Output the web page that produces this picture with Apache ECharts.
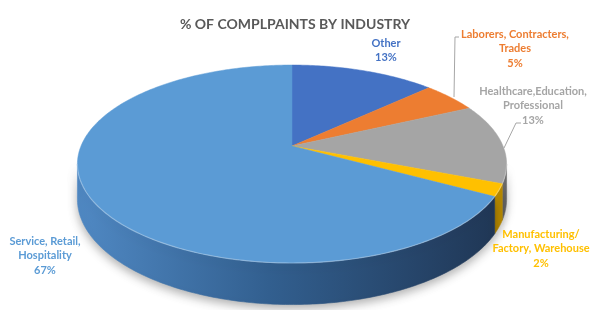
<!DOCTYPE html>
<html>
<head>
<meta charset="utf-8">
<script src="https://cdn.jsdelivr.net/npm/echarts@6/dist/echarts.min.js"></script>
<style>
  html, body { margin: 0; padding: 0; background: #fff; }
  #main { width: 590px; height: 310px; }
</style>
</head>
<body>
<div id="main"></div>
<script>
// data
var categories = ['Other', 'Laborers, Contracters,\nTrades', 'Healthcare,Education,\nProfessional', 'Manufacturing/\nFactory, Warehouse', 'Service, Retail,\nHospitality'];
var shares = [13, 5, 13, 2, 67];
var topColors = ['#4472c4', '#ed7d31', '#a5a5a5', '#ffc000', '#5b9bd5'];
var sideColors = ['#2f5597', '#b65a1c', '#6e6e6e', '#b88a00', null];

// layout of the tilted disc (perspective)
var cx = 292, cy = 146, R = 211, R2 = 95.7, K = 0.182, H = 34;
var labelAt = [[386, 36], [515, 27], [533, 84], [541, 227], [45, 234]];
var leaders = [null, [[459, 37], [455, 37], [454, 97]], [[521, 123], [516, 123], [504, 148]], null, null];

var total = shares.reduce(function (a, b) { return a + b; }, 0);
var starts = [];
shares.reduce(function (acc, v, i) { starts[i] = acc; return acc + v; }, 0);

function proj(t, down) {
  var u = Math.sin(t), v = -Math.cos(t);
  var s = 1 / (1 - K * v);
  return [cx + R * u * s, cy + R2 * v * s + (down ? H * s : 0)];
}
function arc(a0, a1, down) {
  var n = Math.max(2, Math.ceil(Math.abs(a1 - a0) / 0.015));
  var pts = [];
  for (var i = 0; i <= n; i++) pts.push(proj(a0 + (a1 - a0) * i / n, down));
  return pts;
}

var visA = Math.PI / 2 + Math.asin(K), visB = 3 * Math.PI / 2 - Math.asin(K);
var serviceSide = {
  type: 'linear', x: 76, y: 0, x2: 505, y2: 0, global: true,
  colorStops: [
    { offset: 0, color: '#5089c4' },
    { offset: 0.45, color: '#325f8f' },
    { offset: 1, color: '#1f3553' }
  ]
};

function renderItem(params, api) {
  var i = params.dataIndex;
  var a0 = starts[i] / total * 2 * Math.PI;
  var a1 = (starts[i] + api.value(0)) / total * 2 * Math.PI;
  var kids = [];
  var w0 = Math.max(a0, visA), w1 = Math.min(a1, visB);
  if (w1 > w0) {
    var wall = arc(w0, w1, false).concat(arc(w1, w0, true));
    var sc = sideColors[i] || serviceSide;
    kids.push({
      type: 'polygon', z2: 1, silent: true,
      shape: { points: wall },
      style: { fill: sc, stroke: sc, lineWidth: 0.6,
        shadowBlur: 10, shadowColor: 'rgba(0,0,0,0.3)', shadowOffsetY: 4 }
    });
    kids.push({
      type: 'polyline', z2: 12, silent: true,
      shape: { points: arc(w0, w1, false) },
      style: { fill: null, stroke: 'rgba(255,255,255,0.3)', lineWidth: 1.2 }
    });
  }
  kids.push({
    type: 'polygon', z2: 10,
    shape: { points: [[cx, cy]].concat(arc(a0, a1, false)) },
    style: { fill: topColors[i], stroke: topColors[i], lineWidth: 0.5 }
  });
  kids.push({
    type: 'text', z2: 20, silent: true,
    x: labelAt[i][0], y: labelAt[i][1],
    style: {
      text: categories[i] + '\n' + api.value(0) + '%',
      fill: topColors[i], align: 'center', verticalAlign: 'top',
      fontFamily: 'Lato', fontWeight: 'bold', fontSize: 11, lineHeight: 14.5
    }
  });
  if (leaders[i]) {
    kids.push({
      type: 'polyline', z2: 20, silent: true,
      shape: { points: leaders[i] },
      style: { fill: null, stroke: '#a6a6a6', lineWidth: 1 }
    });
  }
  return { type: 'group', children: kids };
}

var chart = echarts.init(document.getElementById('main'));
chart.setOption({
  animation: false,
  title: {
    text: '% OF COMPLPAINTS BY INDUSTRY',
    left: 'center', top: 12,
    textStyle: { fontFamily: 'Lato', fontSize: 14, fontWeight: 'bold', color: '#595959' }
  },
  series: [{
    type: 'custom',
    coordinateSystem: 'none',
    renderItem: renderItem,
    data: shares
  }]
});
</script>
</body>
</html>
